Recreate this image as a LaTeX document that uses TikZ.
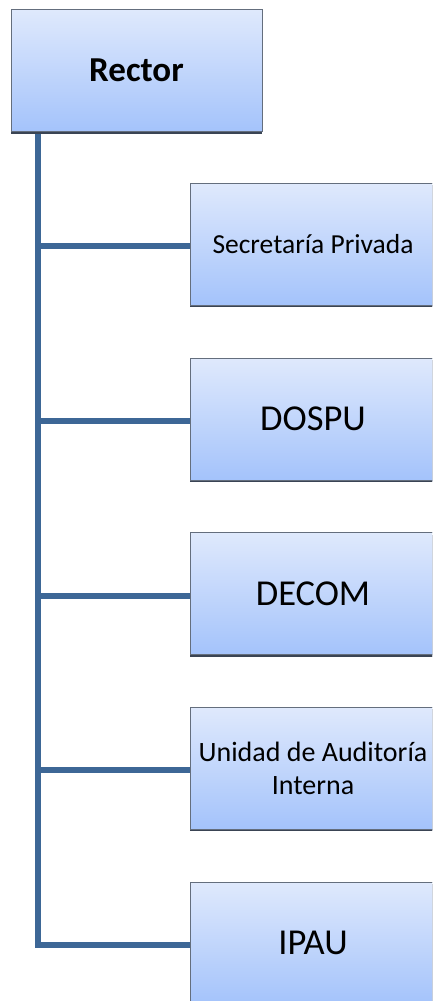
\documentclass[tikz,border=0pt]{standalone}
\usepackage{fontspec}
\setmainfont{Carlito}
\usetikzlibrary{shadows}
\definecolor{boxtop}{RGB}{223,233,252}
\definecolor{boxbot}{RGB}{164,195,251}
\definecolor{boxedge}{RGB}{100,110,125}
\definecolor{boxshadow}{RGB}{58,68,84}
\definecolor{trunk}{RGB}{61,103,150}
\tikzset{
  orgbox/.style={rectangle, draw=boxedge, line width=0.8pt,
    top color=boxtop, bottom color=boxbot,
    drop shadow={shadow xshift=0pt, shadow yshift=-2pt, fill=boxshadow, opacity=1},
    text=black, align=center, inner sep=2pt},
  childbox/.style={orgbox, minimum width=246pt, minimum height=122pt},
  link/.style={draw=trunk, line width=6pt, line cap=rect, line join=miter}
}
\begin{document}
\begin{tikzpicture}[x=1pt,y=1pt]
\useasboundingbox (0,0) rectangle (432,-1001);
\clip (0,0) rectangle (432,-1001);
\fill[white] (0,0) rectangle (432,-1001);
\coordinate (top) at (38,-133);
\node[childbox] (sec) at (313,-244) {};
\node[childbox] (dos) at (313,-419) {};
\node[childbox] (dec) at (313,-593.5) {};
\node[childbox] (uai) at (313,-768) {};
\node[childbox] (ipa) at (313,-943) {};
\foreach \n in {sec,dos,dec,uai,ipa}{
  \draw[link] (top) |- ([yshift=-2pt]\n.west);
}
\node[orgbox, minimum width=251pt, minimum height=122pt, font=\fontsize{35}{40}\selectfont\bfseries] (rector) at (136.5,-70.5) {Rector};
\node[childbox, font=\fontsize{27.5}{31}\selectfont] at (sec) {Secretaría Privada};
\node[childbox, font=\fontsize{36.5}{42}\selectfont] at (dos) {DOSPU};
\node[childbox, font=\fontsize{36.5}{42}\selectfont] at (dec) {DECOM};
\node[childbox, font=\fontsize{28}{33}\selectfont] at (uai) {Unidad de Auditoría\\Interna};
\node[childbox, font=\fontsize{36.5}{42}\selectfont] at (ipa) {IPAU};
\end{tikzpicture}
\end{document}
